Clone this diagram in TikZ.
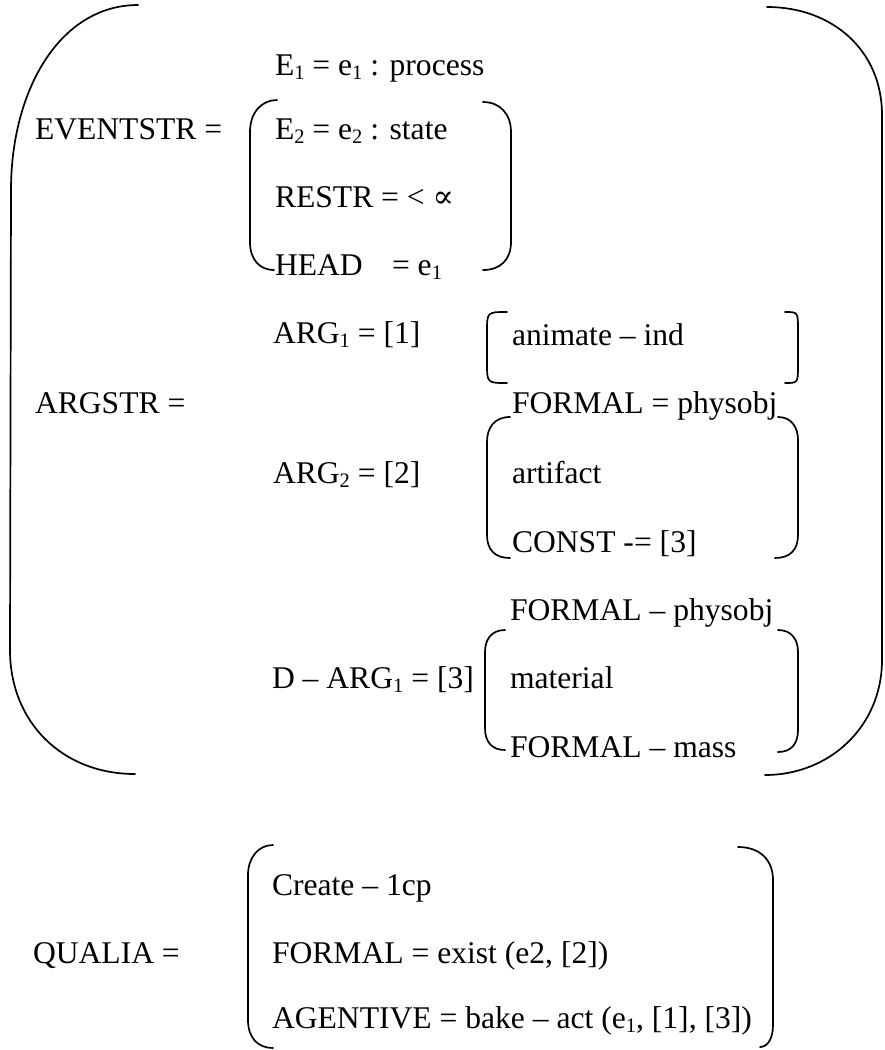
\documentclass[tikz,border=0pt]{standalone}
\usepackage{fontspec}
\setmainfont{Liberation Serif}
\newfontfamily\symfont{DejaVu Serif}
% lowered subscript digit in the running text size
\newcommand\lsub[1]{\raisebox{-4.5pt}{\fontsize{20.5}{20}\selectfont #1}}
\begin{document}
\begin{tikzpicture}[x=1pt,y=-1pt,
  txt/.style={anchor=base west, inner sep=0pt, outer sep=0pt,
              font=\fontsize{31.6}{38}\selectfont},
  brk/.style={line width=1.7pt, line cap=round, line join=round}]
\useasboundingbox (0,0) rectangle (884,1050);

% ---------- outer bracket ----------
\draw[brk] (138,5) .. controls (60,5) and (11,90) .. (11,190)
  -- (10,650) .. controls (10,722) and (62,774) .. (135,774);
\draw[brk] (767,7) .. controls (832,7) and (882,50) .. (882,115)
  -- (882,660) .. controls (882,726) and (830,775) .. (765,775);

% ---------- EVENTSTR ----------
\node[txt] (evlab) at (35,139) {EVENTSTR =};
\node[txt] (e1) at (275,75) {E\lsub{1} = e\lsub{1} : process};
\node[txt] (e2) at (275,139) {E\lsub{2} = e\lsub{2} : state};
\node[txt] (restr) at (275,207) {RESTR = < {\symfont ∝}};
\node[txt] (head) at (275,275) {HEAD};
\node[txt] (heade) at (392,275) {= e\lsub{1}};
\draw[brk] (277,100) .. controls (262,100) and (250,112) .. (250,132)
  -- (250,242) .. controls (250,260) and (260,270) .. (274,270);
\draw[brk] (483,102) .. controls (500,102) and (511,114) .. (511,132)
  -- (511,242) .. controls (511,260) and (500,270) .. (483,270);

% ---------- ARGSTR ----------
\node[txt] (arglab) at (35,413) {ARGSTR =};
\node[txt] (arg1) at (273,343) {ARG\lsub{1} = [1]};
\node[txt] (anim) at (512,345) {animate -- ind};
\draw[brk] (507,312) .. controls (487,312) .. (487,332)
  -- (487,363) .. controls (487,383) .. (507,383);
\draw[brk] (785,312) .. controls (798,312) .. (798,330)
  -- (798,365) .. controls (798,383) .. (785,383);

\node[txt] (form1) at (512,413) {FORMAL = physobj};
\node[txt] (arg2) at (273,483) {ARG\lsub{2} = [2]};
\node[txt] (artif) at (512,483) {artifact};
\node[txt] (const) at (512,552) {CONST -= [3]};
\draw[brk] (510,417) .. controls (494,417) and (487,428) .. (487,442)
  -- (487,535) .. controls (487,550) and (495,558) .. (510,558);
\draw[brk] (778,417) .. controls (792,417) and (798,428) .. (798,440)
  -- (798,535) .. controls (798,550) and (790,558) .. (775,558);

\node[txt] (form2) at (510,620) {FORMAL -- physobj};
\node[txt] (darg) at (272,688) {D -- ARG\lsub{1} = [3]};
\node[txt] (mater) at (510,688) {material};
\node[txt] (form3) at (510,757) {FORMAL -- mass};
\draw[brk] (505,630) .. controls (491,630) and (485,640) .. (485,652)
  -- (485,728) .. controls (485,742) and (492,750) .. (505,750);
\draw[brk] (778,630) .. controls (792,630) and (798,640) .. (798,652)
  -- (798,730) .. controls (798,744) and (791,752) .. (778,752);

% ---------- QUALIA ----------
\node[txt] (qlab) at (33,963) {QUALIA =};
\node[txt] (creat) at (272,895) {Create -- 1cp};
\node[txt] (qform) at (272,963) {FORMAL = exist (e2, [2])};
\node[txt] (agent) at (272,1028) {AGENTIVE = bake -- act (e\lsub{1}, [1], [3])};
\draw[brk] (273,845) .. controls (258,845) and (248,858) .. (248,875)
  -- (248,1020) .. controls (248,1038) and (258,1048) .. (273,1048);
\draw[brk] (738,847) .. controls (760,847) and (773,860) .. (773,880)
  -- (773,1025) .. controls (773,1038) and (768,1047) .. (760,1047);
\end{tikzpicture}
\end{document}
